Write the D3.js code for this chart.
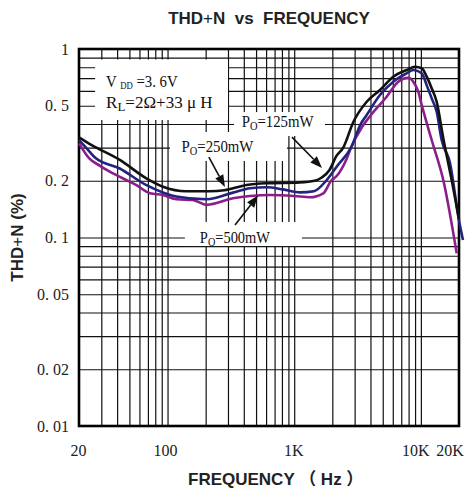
<!DOCTYPE html>
<html><head><meta charset="utf-8">
<script src="https://cdn.jsdelivr.net/npm/d3@7"></script>
<style>
html,body{margin:0;padding:0;background:#fff;}
svg{display:block;}
text{white-space:pre;}
</style></head>
<body><svg id="chart" width="465" height="492"></svg>
<script>
// ---------------- data ----------------
const freq125 = [20, 25, 42, 68, 92, 140, 215, 280, 420, 600, 1100, 1450, 1650, 1900, 2150, 2440, 2930, 3736, 4754, 6058, 7724, 8990, 10150, 11120, 12170, 13330, 15030, 18030, 20000];
const thd125  = [0.34, 0.31, 0.258, 0.206, 0.186, 0.176, 0.176, 0.178, 0.19, 0.194, 0.196, 0.2, 0.208, 0.228, 0.27, 0.30, 0.41, 0.525, 0.606, 0.713, 0.774, 0.805, 0.79, 0.713, 0.619, 0.525, 0.336, 0.182, 0.125];

const freq250 = [20, 22.7, 27.2, 41.6, 67.6, 117, 204, 329, 448, 607, 815, 1112, 1430, 1805, 2200, 2810, 3350, 3736, 4754, 6058, 7724, 8710, 10150, 11120, 12170, 13330, 14590, 16980, 20000, 21500];
const thd250  = [0.329, 0.30, 0.263, 0.233, 0.19, 0.165, 0.1595, 0.173, 0.1824, 0.1847, 0.18, 0.1735, 0.176, 0.2018, 0.241, 0.3, 0.4, 0.447, 0.57, 0.671, 0.743, 0.774, 0.743, 0.643, 0.5475, 0.465, 0.329, 0.2485, 0.123, 0.097];

const freq500 = [20, 24.1, 29.3, 34.7, 56.4, 72.7, 91.6, 118, 158, 204, 329, 448, 644, 1000, 1332, 1698, 1955, 2164, 2596, 2810, 3470, 3966, 5370, 6634, 7958, 8710, 9540, 10150, 12170, 15030, 19180];
const thd500  = [0.316, 0.263, 0.24, 0.224, 0.19, 0.1716, 0.168, 0.1595, 0.158, 0.149, 0.1614, 0.166, 0.168, 0.166, 0.1635, 0.1716, 0.2, 0.212, 0.262, 0.3, 0.39, 0.44, 0.558, 0.671, 0.704, 0.671, 0.5935, 0.505, 0.329, 0.2018, 0.0824];

const freqGrid = [30,40,50,60,70,80,90,100,200,300,400,500,600,700,800,900,1000,2000,3000,4000,5000,6000,7000,8000,9000,10000];
const thdGrid  = [0.02,0.03,0.04,0.05,0.06,0.07,0.08,0.09,0.1,0.2,0.3,0.4,0.5,0.6,0.7,0.8,0.9];
const freqTicks = [20, 100, 1000, 10000, 20000];
const freqTickLabels = ["20", "100", "1K", "10K", "20K"];
const thdTicks = [1, 0.5, 0.2, 0.1, 0.05, 0.02, 0.01];
const thdTickLabels = ["1", "0. 5", "0. 2", "0. 1", "0. 05", "0. 02", "0. 01"];

// ---------------- layout / style ----------------
const plot = {left: 79, right: 459, top: 49, bottom: 426};
const xLabelNudge = [-1, -2.5, -1, -5.5, -9.5];
const serif = "'Liberation Serif','DejaVu Serif',serif";
const sans = "'Liberation Sans',Arial,'Noto Sans CJK SC',sans-serif";

const svg = d3.select("#chart");
const x = d3.scaleLog().domain([20, 20000]).range([plot.left, plot.right]);
const y = d3.scaleLog().domain([0.01, 1]).range([plot.bottom, plot.top]);
const pw = plot.right - plot.left, ph = plot.bottom - plot.top;

// grid
svg.append("g").attr("transform", `translate(0,${plot.bottom})`)
  .call(d3.axisBottom(x).tickValues(freqGrid).tickSize(-ph).tickFormat(""))
  .call(g => g.select(".domain").remove())
  .selectAll("line").attr("stroke", "#111").attr("stroke-width", 1.2);
svg.append("g").attr("transform", `translate(${plot.left},0)`)
  .call(d3.axisLeft(y).tickValues(thdGrid).tickSize(-pw).tickFormat(""))
  .call(g => g.select(".domain").remove())
  .selectAll("line").attr("stroke", "#111").attr("stroke-width", 1.2);

// white label backgrounds (data coords: f0,f1,v0,v1)
const boxes = [
  [26.8, 300, 0.88, 0.42],
  [335, 1750, 0.463, 0.3455],
  [104.6, 877, 0.3627, 0.2546],
  [137, 1152, 0.1208, 0.0901]
];
svg.append("g").selectAll("rect").data(boxes).join("rect")
  .attr("x", d => x(d[0])).attr("width", d => x(d[1]) - x(d[0]))
  .attr("y", d => y(d[2])).attr("height", d => y(d[3]) - y(d[2]))
  .attr("fill", "#fff");

// frame
svg.append("rect").attr("x", x(20)).attr("y", y(1))
  .attr("width", x(20000) - x(20)).attr("height", y(0.01) - y(1))
  .attr("fill", "none").attr("stroke", "#000").attr("stroke-width", 2.6);

// curves
const series = [
  {f: freq500, v: thd500, color: "#8b1e8b"},
  {f: freq250, v: thd250, color: "#22227f"},
  {f: freq125, v: thd125, color: "#111111"}
];
const line = d3.line().x(d => x(d[0])).y(d => y(d[1])).curve(d3.curveMonotoneX);
series.forEach(s => {
  svg.append("path").datum(s.f.map((f, i) => [f, s.v[i]]))
    .attr("d", line).attr("fill", "none")
    .attr("stroke", s.color).attr("stroke-width", 2.6)
    .attr("stroke-linejoin", "round");
});

// axes labels
const yAx = svg.append("g").attr("transform", `translate(${plot.left},0)`)
  .call(d3.axisLeft(y).tickValues(thdTicks).tickFormat((d, i) => thdTickLabels[i]).tickSize(0).tickPadding(10));
yAx.select(".domain").remove();
yAx.selectAll("text").attr("font-family", serif).attr("font-size", 16).attr("fill", "#222");

const xAx = svg.append("g").attr("transform", `translate(0,${plot.bottom})`)
  .call(d3.axisBottom(x).tickValues(freqTicks).tickFormat((d, i) => freqTickLabels[i]).tickSize(0).tickPadding(19));
xAx.select(".domain").remove();
xAx.selectAll("text").attr("font-family", serif).attr("font-size", 16).attr("fill", "#222")
  .attr("dx", (d, i) => xLabelNudge[i]);

// arrows (data coords: from [f,v] to [f,v])
const arrows = [
  [[960, 0.341], [1658, 0.234]],
  [[212, 0.2673], [284, 0.1853]],
  [[341, 0.1165], [518, 0.167]]
];
arrows.forEach(a => {
  const x1 = x(a[0][0]), y1 = y(a[0][1]), x2 = x(a[1][0]), y2 = y(a[1][1]);
  const ang = Math.atan2(y2 - y1, x2 - x1), L = 12, Wd = 4.5;
  const bx = x2 - L * Math.cos(ang), by = y2 - L * Math.sin(ang);
  svg.append("line").attr("x1", x1).attr("y1", y1).attr("x2", bx).attr("y2", by)
    .attr("stroke", "#111").attr("stroke-width", 1.6);
  const px = -Math.sin(ang) * Wd, py = Math.cos(ang) * Wd;
  svg.append("path").attr("d", `M${x2},${y2}L${bx + px},${by + py}L${bx - px},${by - py}Z`).attr("fill", "#111");
});

// annotation texts (data coords of baseline start)
const labels = [
  {f: 32.7, v: 0.631, sx: 0.87, parts: [{t: "V"}, {t: "DD", size: 10, dy: 2, dx: 4}, {t: " =3. 6V", dy: -2}]},
  {f: 32.7, v: 0.4846, sx: 1.0, parts: [{t: "R"}, {t: "L", size: 13, dy: 3}, {t: "=2Ω+33 μ H", dy: -3}]},
  {f: 385, v: 0.3857, sx: 0.87, parts: [{t: "P"}, {t: "O", size: 12, dy: 3}, {t: "=125mW", dy: -3}]},
  {f: 129, v: 0.285, sx: 0.87, parts: [{t: "P"}, {t: "O", size: 12, dy: 3}, {t: "=250mW", dy: -3}]},
  {f: 180, v: 0.0932, sx: 0.85, parts: [{t: "P"}, {t: "O", size: 12, dy: 3}, {t: "=500mW", dy: -3}]}
];
labels.forEach(l => {
  const t = svg.append("text")
    .attr("transform", `translate(${x(l.f)},${y(l.v)}) scale(${l.sx},1)`)
    .attr("font-family", serif).attr("font-size", 17).attr("fill", "#111");
  l.parts.forEach(p => t.append("tspan").attr("font-size", p.size || 17)
    .attr("dy", p.dy || 0).attr("dx", p.dx || 0).text(p.t));
});

// titles
const title = svg.append("text").attr("x", (plot.left + plot.right) / 2).attr("y", 24)
  .attr("text-anchor", "middle").attr("font-family", sans).attr("font-size", 17)
  .attr("font-weight", "bold").attr("fill", "#222");
title.append("tspan").text("THD");
title.append("tspan").attr("font-weight", "normal").text("+");
title.append("tspan").text("N  vs  FREQUENCY");

const yt = svg.append("text").attr("transform", `translate(23,${(plot.top + plot.bottom) / 2}) rotate(-90)`)
  .attr("text-anchor", "middle").attr("font-family", sans).attr("font-size", 17)
  .attr("font-weight", "bold").attr("fill", "#222");
yt.append("tspan").text("THD");
yt.append("tspan").attr("font-weight", "normal").text("+");
yt.append("tspan").text("N (%)");

svg.append("text").attr("x", 188).attr("y", 485)
  .attr("font-family", sans).attr("font-size", 17).attr("font-weight", "bold").attr("fill", "#222")
  .text("FREQUENCY （ Hz ）");
</script>
</body></html>
